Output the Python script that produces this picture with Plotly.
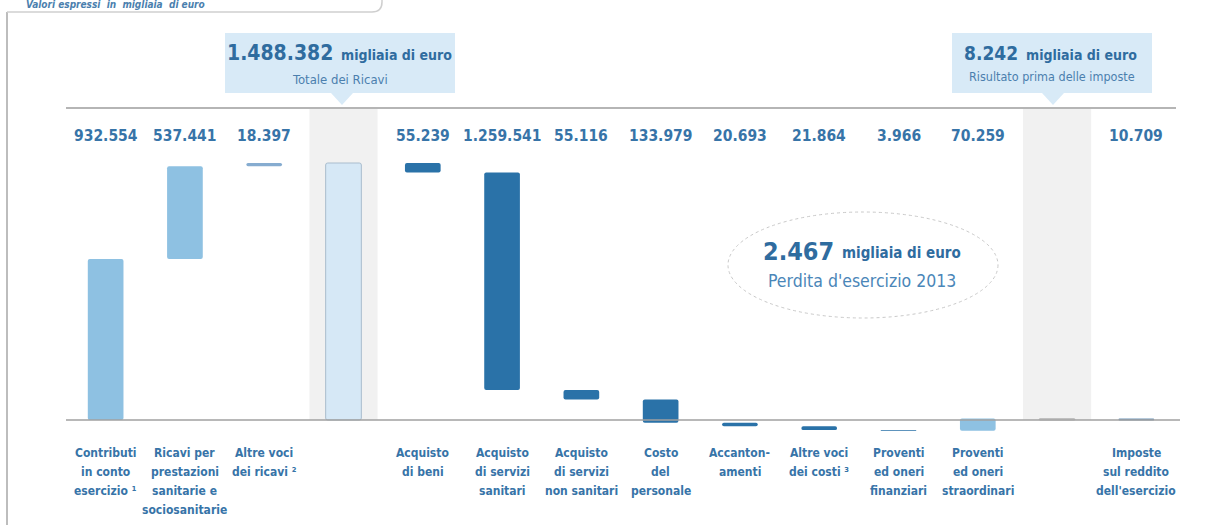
import numpy as np
import plotly.graph_objects as go

# ---------------- data ----------------
categories = [
    "Contributi<br>in conto<br>esercizio ¹",
    "Ricavi per<br>prestazioni<br>sanitarie e<br>sociosanitarie",
    "Altre voci<br>dei ricavi ²",
    "",
    "Acquisto<br>di beni",
    "Acquisto<br>di servizi<br>sanitari",
    "Acquisto<br>di servizi<br>non sanitari",
    "Costo<br>del<br>personale",
    "Accanton-<br>amenti",
    "Altre voci<br>dei costi ³",
    "Proventi<br>ed oneri<br>finanziari",
    "Proventi<br>ed oneri<br>straordinari",
    "",
    "Imposte<br>sul reddito<br>dell'esercizio",
]
values = [932554, 537441, 18397, 0, -55239, -1259541, -55116, -133979,
          -20693, -21864, -3966, 70259, 0, -10709]
measures = ["relative", "relative", "relative", "total", "relative", "relative",
            "relative", "relative", "relative", "relative", "relative",
            "relative", "total", "relative"]
value_labels = ["932.554", "537.441", "18.397", "", "55.239", "1.259.541",
                "55.116", "133.979", "20.693", "21.864", "3.966", "70.259",
                "", "10.709"]
bar_colors = ["#8ec1e2", "#8ec1e2", "#86acd0", "#d6e8f6", "#2a72a8", "#2a72a8",
              "#2a72a8", "#2a72a8", "#2a72a8", "#2a72a8", "#2a72a8", "#8ec1e2",
              "#e4e4e4", "#6f95b8"]
callout_revenue = ("1.488.382", "migliaia di euro", "Totale dei Ricavi")
callout_pretax = ("8.242", "migliaia di euro", "Risultato prima delle imposte")
callout_loss = ("2.467", "migliaia di euro", "Perdita d'esercizio 2013")
header_text = "Valori espressi  in  migliaia  di euro"

# ---------------- waterfall geometry from data ----------------
n = len(values)
bases, heights = [], []
running = 0.0
for v, m in zip(values, measures):
    if m == "total":
        bases.append(0.0)
        heights.append(running)
    else:
        bases.append(running)
        heights.append(v)
        running += v
bases = np.array(bases)
heights = np.array(heights)

W, H = 1226, 525
L, R, T, B = 66, 50, 108, 85
plot_w = W - L - R
plot_h = H - T - B

def px(xp):
    return (xp - L) / plot_w

def py(yp):
    return (H - B - yp) / plot_h

FONT = "DejaVu Sans Condensed, Liberation Sans Narrow, Roboto Condensed, sans-serif"
BLUE = "#3774a8"

x = list(range(n))
line_colors = ["rgba(0,0,0,0)"] * n
line_colors[3] = "#a9bccd"
line_colors[12] = "#bdbdbd"

fig = go.Figure()
fig.add_trace(go.Bar(
    x=x, y=heights, base=bases, width=0.45,
    marker=dict(color=bar_colors, line=dict(color=line_colors, width=1), cornerradius=2),
    hoverinfo="skip", showlegend=False,
))

shapes = []
# grey bands behind total columns
for i, m in enumerate(measures):
    if m == "total":
        shapes.append(dict(type="rect", xref="x", yref="paper", x0=i - 0.43, x1=i + 0.43,
                           y0=py(420), y1=1, fillcolor="#f1f1f1", line=dict(width=0),
                           layer="below"))
# top line and baseline
shapes.append(dict(type="line", xref="paper", yref="paper", x0=0, x1=1, y0=1, y1=1,
                   line=dict(color="#b5b5b5", width=2)))
shapes.append(dict(type="line", xref="paper", yref="y", x0=0, x1=px(1180), y0=0, y1=0,
                   line=dict(color="#a0a0a0", width=1.5)))
# left frame line + header tab
shapes.append(dict(type="line", xref="paper", yref="paper", x0=px(7), x1=px(7),
                   y0=py(12), y1=py(525), line=dict(color="#bdbdbd", width=2)))
shapes.append(dict(type="path", xref="paper", yref="paper",
                   path=f"M {px(7)},{py(12)} L {px(372)},{py(12)} Q {px(382)},{py(12)} {px(382)},{py(2)} L {px(382)},{py(-2)}",
                   line=dict(color="#cfcfcf", width=1.5)))

# callout boxes
def callout(x0, x1, y0, y1, xc):
    shapes.append(dict(type="rect", xref="paper", yref="paper", x0=px(x0), x1=px(x1),
                       y0=py(y1), y1=py(y0), fillcolor="#d8eaf7", line=dict(width=0)))
    shapes.append(dict(type="path", xref="paper", yref="paper",
                       path=f"M {px(xc-11)},{py(y1)} L {px(xc+11)},{py(y1)} L {px(xc)},{py(y1+12)} Z",
                       fillcolor="#d8eaf7", line=dict(width=0)))

callout(225, 455, 33, 93, 342)
callout(952, 1152, 33, 93, 1053)

# ellipse
shapes.append(dict(type="circle", xref="paper", yref="paper", x0=px(728), x1=px(998),
                   y0=py(318), y1=py(212), line=dict(color="#c9c9c9", width=1, dash="dot")))

annotations = []
# value labels
for i, t in enumerate(value_labels):
    if t:
        annotations.append(dict(x=i, xref="x", y=py(136), yref="paper",
                                xanchor="center", yanchor="middle", text=f"<b>{t}</b>",
                                showarrow=False, font=dict(family=FONT, size=15.5, color=BLUE)))
# category labels, one annotation per line for 19px line spacing
for i, c in enumerate(categories):
    if c:
        for k, line in enumerate(c.split("<br>")):
            annotations.append(dict(x=i, xref="x", y=py(453 + 19 * k), yref="paper",
                                    xanchor="center", yanchor="middle",
                                    text=f"<b>{line}</b>", showarrow=False,
                                    font=dict(family=FONT, size=12, color=BLUE)))

def callout_text(split, xc, y1, y2, big, small, sub, bigsize, smallsize, subsize, subcolor):
    annotations.append(dict(x=px(split), y=py(y1), xref="paper", yref="paper", showarrow=False,
                            xanchor="right", yanchor="middle", text=f"<b>{big}</b>",
                            font=dict(family=FONT, size=bigsize, color="#2f6c9f")))
    annotations.append(dict(x=px(split + 4), y=py(y1 + 2), xref="paper", yref="paper",
                            showarrow=False, xanchor="left", yanchor="middle",
                            text=f"<b>{small}</b>",
                            font=dict(family=FONT, size=smallsize, color="#2f6c9f")))
    annotations.append(dict(x=px(xc), y=py(y2), xref="paper", yref="paper", showarrow=False,
                            xanchor="center", yanchor="middle",
                            text=sub, font=dict(family=FONT, size=subsize, color=subcolor)))

callout_text(335, 340, 53, 79, *callout_revenue, 21, 14, 13, "#4b7fae")
callout_text(1020, 1052, 53, 77, *callout_pretax, 19, 14, 12.5, "#4b7fae")
callout_text(836, 862, 251, 281, *callout_loss, 25, 15, 17.5, "#4a86b8")

annotations.append(dict(x=px(24), y=py(5), xref="paper", yref="paper",
                        xanchor="left", yanchor="middle",
                        text=f"<i><b>{header_text}</b></i>", showarrow=False,
                        font=dict(family=FONT, size=10, color="#4b7fae")))

y_top = 1488382 * (420 - T) / (420 - 163)
y_bot = -1488382 * (H - B - 420) / (420 - 163)

fig.update_layout(
    width=W, height=H,
    margin=dict(l=L, r=R, t=T, b=B),
    paper_bgcolor="white", plot_bgcolor="white",
    bargap=0.55,
    xaxis=dict(range=[-0.5, n - 0.5], showticklabels=False, showgrid=False, zeroline=False,
               showline=False, ticks=""),
    yaxis=dict(range=[y_bot, y_top], showticklabels=False, showgrid=False, zeroline=False,
               showline=False, ticks=""),
    shapes=shapes, annotations=annotations,
    font=dict(family=FONT),
)

fig.write_html("out.html")
